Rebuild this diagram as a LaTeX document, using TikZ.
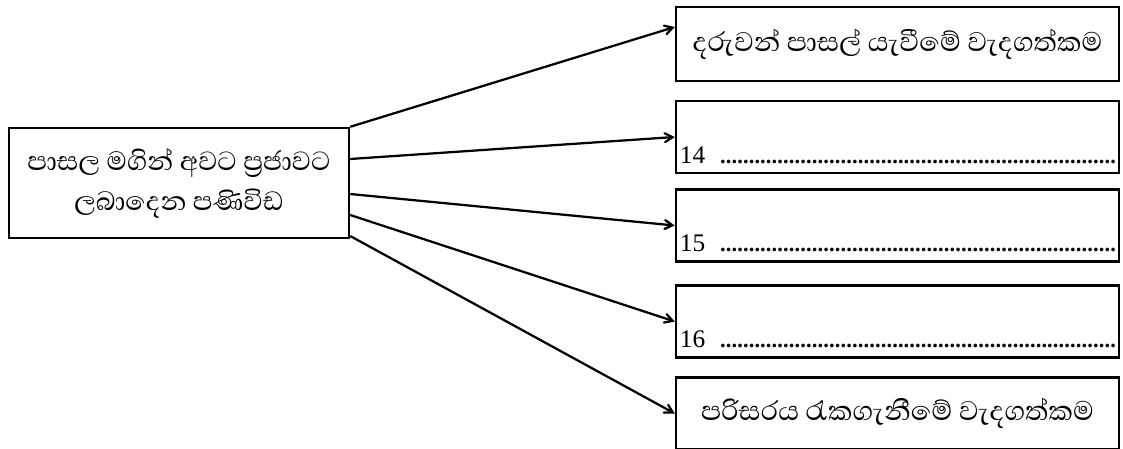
\documentclass[tikz,border=0pt]{standalone}
\usepackage{fontspec}
\setmainfont{Liberation Serif}
\newfontfamily\sinhala[Script=Sinhala]{Abhaya Libre}
\usetikzlibrary{arrows,calc}
\newcommand\dotrow{\hbox to 9.9cm{\fontsize{16}{18}\selectfont\bfseries\xleaders\hbox to 0.1425cm{\hss.\hss}\hfill}}

\begin{document}
\begin{tikzpicture}[->,>=angle 60,line width=1.6pt,x=0.025cm,y=-0.025cm,
    src node/.style={rectangle,draw,line width=1.7pt,minimum width=8.5cm,minimum height=2.75cm,inner sep=0pt,align=center,font=\sinhala\fontsize{24}{28.5}\selectfont},
    ans node/.style={rectangle,draw,line width=1.7pt,minimum width=11.075cm,minimum height=1.8cm,inner sep=0pt,font=\sinhala\fontsize{24.5}{26}\selectfont},
    num node/.style={inner sep=0pt,anchor=base west,font=\fontsize{18}{20}\selectfont}]
  \useasboundingbox (0,0) rectangle (1123,448);
  \node[src node] (src) at (179,183) {පාසල මගින් අවට ප්^^^^200dරජාවට\\ලබාදෙන පණිවිඩ};
  \node[ans node,minimum height=1.85cm] (top) at (897.5,44) {දරුවන් පාසල් යැවීමේ වැදගත්කම};
  \node[ans node] (a14) at (897.5,137) {};
  \node[ans node] (a15) at (897.5,225.5) {};
  \node[ans node] (a16) at (897.5,321.5) {};
  \node[ans node] (bottom) at (897.5,413.5) {පරිසරය රැකගැනීමේ වැදගත්කම};
  \node[num node] (n14) at ($(a14.south west)+(4,-11)$) {14\hspace{0.37cm}\dotrow};
  \node[num node] (n15) at ($(a15.south west)+(4,-11)$) {15\hspace{0.37cm}\dotrow};
  \node[num node] (n16) at ($(a16.south west)+(4,-11)$) {16\hspace{0.37cm}\dotrow};

  \path
  (src.north east) edge ([yshift=0.425cm]top.west)
  ([yshift=0.6cm]src.east) edge (a14.west)
  ([yshift=-0.275cm]src.east) edge (a15.west)
  ([yshift=-0.8cm]src.east) edge (a16.west)
  ([yshift=-1.325cm]src.east) edge (bottom.west);
\end{tikzpicture}
\end{document}
